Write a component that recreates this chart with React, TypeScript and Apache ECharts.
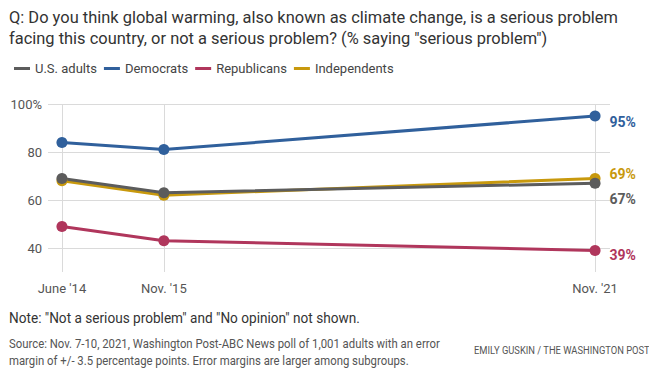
import React, { useEffect, useRef } from "react";
import * as echarts from "echarts";

const dates = ["2014-06-01", "2015-11-01", "2021-11-01"];
const tickLabels = ["June '14", "Nov. '15", "Nov. '21"];
const usAdults = [69, 63, 67];
const democrats = [84, 81, 95];
const republicans = [49, 43, 39];
const independents = [68, 62, 69];
const yTicks = [40, 60, 80, 100];

const titleLines = [
  "Q: Do you think global warming, also known as climate change, is a serious problem",
  'facing this country, or not a serious problem? (% saying "serious problem")',
];
const noteText = 'Note: "Not a serious problem" and "No opinion" not shown.';
const sourceLines = [
  "Source: Nov. 7-10, 2021, Washington Post-ABC News poll of 1,001 adults with an error",
  "margin of +/- 3.5 percentage points. Error margins are larger among subgroups.",
];
const creditText = "EMILY GUSKIN / THE WASHINGTON POST";

const FONT = "Roboto, sans-serif";

const toTs = (d: string) => Date.parse(d + "T00:00:00Z");

function measure(text: string, size: number, weight = "normal") {
  const c = document.createElement("canvas").getContext("2d");
  if (!c) return text.length * size * 0.5;
  c.font = `${weight} ${size}px Roboto`;
  return c.measureText(text).width;
}

export default function App() {
  const ref = useRef<HTMLDivElement>(null);
  useEffect(() => {
    if (!ref.current) return;
    const chart = echarts.init(ref.current, undefined, { renderer: "svg" });
    const ts = dates.map(toTs);
    const mk = (name: string, vals: number[], color: string, offset: number[]) => ({
      name,
      type: "line",
      data: vals.map((v, i) => [ts[i], v]),
      symbol: "circle",
      symbolSize: 11,
      lineStyle: { width: 3, color },
      itemStyle: { color },
      z: 3,
      label: {
        show: true,
        position: "right",
        distance: 9,
        offset,
        fontFamily: FONT,
        fontSize: 14,
        fontWeight: "bold",
        color,
        formatter: (p: any) => (p.dataIndex === vals.length - 1 ? p.value[1] + "%" : ""),
      },
    });

    const fit = (text: string, size: number, target: number) => target / measure(text, size);
    const titleScale = fit(titleLines[0], 16, 609);
    const noteScale = fit(noteText, 14, 351);
    const srcScale = fit(sourceLines[0], 12, 431);
    const creditScale = fit(creditText, 11, 176);

    const txt = (text: string, x: number, y: number, size: number, sx: number, fill: string) => ({
      type: "text",
      x,
      y,
      scaleX: sx,
      silent: true,
      style: { text, fontFamily: FONT, fontSize: size, fill, verticalAlign: "middle", align: "left" },
    });

    chart.setOption({
      animation: false,
      textStyle: { fontFamily: FONT },
      legend: {
        left: 9,
        top: 57,
        icon: "rect",
        itemWidth: 16,
        itemHeight: 3,
        itemGap: 7,
        textStyle: { fontFamily: FONT, fontSize: 13, color: "#444" },
        data: ["U.S. adults", "Democrats", "Republicans", "Independents"],
      },
      grid: { left: 48, right: 47, top: 104, height: 168 },
      xAxis: {
        type: "value",
        min: Date.UTC(2014, 2, 22),
        max: Date.UTC(2022, 0, 16),
        axisLine: { show: false },
        axisTick: { show: false, customValues: ts },
        splitLine: { show: true, lineStyle: { color: "#dadada", width: 1 } },
        axisLabel: {
          customValues: ts,
          margin: 10,
          fontFamily: FONT,
          fontSize: 13,
          color: "#555",
          formatter: (v: number) => {
            const i = ts.indexOf(v);
            return i >= 0 ? tickLabels[i] : "";
          },
        },
      },
      yAxis: {
        type: "value",
        min: 30,
        max: 100,
        axisLine: { show: false },
        axisTick: { show: false, customValues: yTicks },
        splitLine: { show: true, lineStyle: { color: "#dadada", width: 1 } },
        axisLabel: {
          customValues: yTicks,
          margin: 6,
          fontFamily: FONT,
          fontSize: 13,
          color: "#555",
          formatter: (v: number) => (v === 100 ? "100%" : String(v)),
        },
      },
      series: [
        mk("Independents", independents, "#c8990d", [0, -4]),
        mk("U.S. adults", usAdults, "#5c5c5c", [0, 16]),
        mk("Democrats", democrats, "#30609c", [0, 6]),
        mk("Republicans", republicans, "#b0365c", [0, 5]),
      ],
      graphic: [
        txt(titleLines[0], 9, 17.5, 16, titleScale, "#333"),
        txt(titleLines[1], 9, 38.5, 16, titleScale, "#333"),
        txt(noteText, 9, 318, 14, noteScale, "#333"),
        txt(sourceLines[0], 9, 343.5, 12, srcScale, "#555"),
        txt(sourceLines[1], 9, 360.5, 12, srcScale, "#555"),
        txt(creditText, 474, 350.5, 11, creditScale, "#555"),
      ],
    });
    return () => chart.dispose();
  }, []);
  return <div ref={ref} style={{ width: 657, height: 376, margin: -8 }} />;
}
